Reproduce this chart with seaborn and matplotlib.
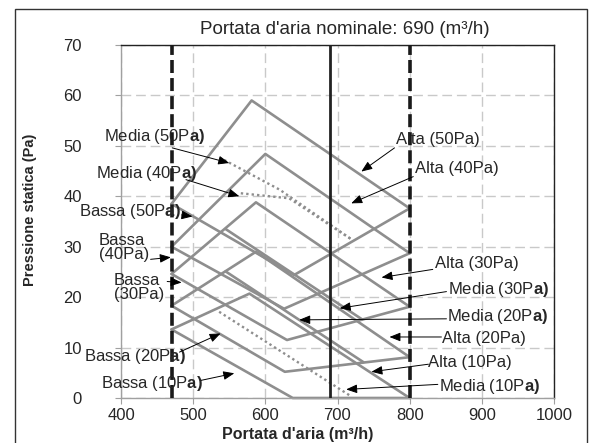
import matplotlib
matplotlib.use("Agg")
import matplotlib.pyplot as plt
import seaborn as sns

# airflow limits (m3/h)
flow_min = 470
flow_max = 800
flow_nom = 690

pressures = [10, 20, 30, 40, 50]
# corner points of the curve group for each static pressure setting
left_y = [13.6, 18.3, 24.6, 30.0, 38.5]      # at flow_min
peak_x = [578, 587, 587, 600, 581]
peak_y = [20.7, 29.0, 38.8, 48.4, 59.0]
right_y = [0.0, 8.1, 18.1, 28.7, 37.6]       # at flow_max
valley_x = [638, 627, 630, 626, 640]
valley_y = [0.0, 5.2, 11.5, 17.7, 24.4]

# "Media" curves
media_x = [[536, 717], [545, 736], [545, 734], [566, 633, 721], [543, 620, 721]]
media_y = [[17.1, 0.5], [25.1, 7.1], [33.5, 15.6], [40.6, 39.6, 31.3], [47.2, 41.3, 31.3]]
media_dotted = [True, False, False, True, True]

x_ticks = [400, 500, 600, 700, 800, 900, 1000]
y_ticks = [0, 10, 20, 30, 40, 50, 60, 70]

# label text, text position, arrow tail, arrow head
labels = [
    (r"Bassa (10P$\mathbf{a)}$", (372, 2.9), (511, 3.5), (557, 4.9)),
    (r"Bassa (20P$\mathbf{a)}$", (349, 8.2), (481, 9.1), (538, 12.8)),
    ("Bassa\n(30Pa)", (390, 21.9), (464, 23.1), (484, 22.9)),
    ("Bassa\n(40Pa)", (369, 29.8), (441, 27.5), (469, 27.9)),
    (r"Bassa (50P$\mathbf{a)}$", (342, 37.0), (484, 36.3), (499, 36.0)),
    (r"Media (40P$\mathbf{a)}$", (365, 44.5), (490, 43.3), (564, 40.0)),
    (r"Media (50P$\mathbf{a)}$", (376, 51.8), (471, 49.6), (550, 46.6)),
    ("Alta (50Pa)", (781, 51.2), (779, 49.6), (733, 44.9)),
    ("Alta (40Pa)", (807, 45.6), (805, 43.9), (719, 38.6)),
    ("Alta (30Pa)", (835, 26.7), (832, 25.5), (761, 23.9)),
    (r"Media (30P$\mathbf{a)}$", (853, 21.5), (851, 21.1), (703, 17.8)),
    (r"Media (20P$\mathbf{a)}$", (852, 16.1), (851, 15.7), (647, 15.5)),
    ("Alta (20Pa)", (845, 11.8), (844, 12.1), (772, 12.1)),
    ("Alta (10Pa)", (826, 7.0), (826, 6.7), (747, 5.2)),
    (r"Media (10P$\mathbf{a)}$", (841, 2.3), (839, 2.7), (712, 1.7)),
]

sns.set_theme(style="white")
plt.rcParams['font.family'] = ['Liberation Sans', 'DejaVu Sans']
plt.rcParams['mathtext.fontset'] = 'custom'
plt.rcParams['mathtext.rm'] = 'Liberation Sans'
plt.rcParams['mathtext.bf'] = 'Liberation Sans:bold'

fig, ax = plt.subplots(figsize=(5.97, 4.43), dpi=100)
fig.subplots_adjust(left=121/597, right=554/597, bottom=1-398/443, top=1-45/443)

curve_col = '#8e8e8e'
for i, p in enumerate(pressures):
    # Alta: upper path, Bassa: lower path
    sns.lineplot(x=[flow_min, peak_x[i], flow_max], y=[left_y[i], peak_y[i], right_y[i]],
                 sort=False, estimator=None, color=curve_col, linewidth=1.9,
                 clip_on=False, ax=ax)
    sns.lineplot(x=[flow_min, valley_x[i], flow_max], y=[left_y[i], valley_y[i], right_y[i]],
                 sort=False, estimator=None, color=curve_col, linewidth=1.9,
                 clip_on=False, ax=ax)
    ls = (0, (1, 1.3)) if media_dotted[i] else '-'
    sns.lineplot(x=media_x[i], y=media_y[i], sort=False, estimator=None,
                 color=curve_col, linewidth=1.9 if not media_dotted[i] else 1.7,
                 linestyle=ls, clip_on=False, ax=ax)

ax.axvline(flow_min, color='#1a1a1a', lw=2.6, dashes=(3.6, 1.4), zorder=3)
ax.axvline(flow_max, color='#1a1a1a', lw=2.6, dashes=(3.6, 1.4), zorder=3)
ax.axvline(flow_nom, color='#222222', lw=2.0, zorder=3)

ax.set_xlim(400, 1000)
ax.set_ylim(0, 70)
ax.set_xticks(x_ticks)
ax.set_yticks(y_ticks)
ax.grid(True, color='#c9c9c9', lw=1.0, dashes=(7, 3.5))
ax.set_axisbelow(True)
for s in ['top', 'right']:
    ax.spines[s].set_color('#222222')
    ax.spines[s].set_linewidth(1.0)
for s in ['left', 'bottom']:
    ax.spines[s].set_color('#a0a0a0')
    ax.spines[s].set_linewidth(1.0)
ax.tick_params(axis='y', length=4, width=0.8, color='#a0a0a0', pad=24, labelsize=12, left=True)
ax.tick_params(axis='x', length=4, width=0.8, color='#a0a0a0', pad=3, labelsize=12, bottom=True)
ax.set_xlabel('')
ax.set_ylabel('')

for text, pos, tail, head in labels:
    ax.text(pos[0], pos[1], text, ha='left', va='center', fontsize=12,
            linespacing=0.9, clip_on=False, zorder=5)
    ax.annotate('', xy=head, xytext=tail,
                arrowprops=dict(arrowstyle='-|>,head_length=0.55,head_width=0.22',
                                color='black', lw=0.7, shrinkA=0, shrinkB=0),
                annotation_clip=False, zorder=5)

fig.text(345/597, 1-30/443, "Portata d'aria nominale: 690 (m\u00b3/h)",
         ha='center', va='center', fontsize=13.5)
fig.text(298/597, 1-435/443, "Portata d'aria (m\u00b3/h)",
         ha='center', va='center', fontsize=11.5, fontweight='bold')
fig.text(30/597, 1-210/443, "Pressione statica (Pa)", rotation=90,
         ha='center', va='center', fontsize=10.5, fontweight='bold')

fig.add_artist(plt.Rectangle((15/597, -0.01), 572/597, 1-9/443+0.01, fill=False,
                             ec='#333333', lw=1.0, transform=fig.transFigure))

fig.savefig('out.png', dpi=100)
